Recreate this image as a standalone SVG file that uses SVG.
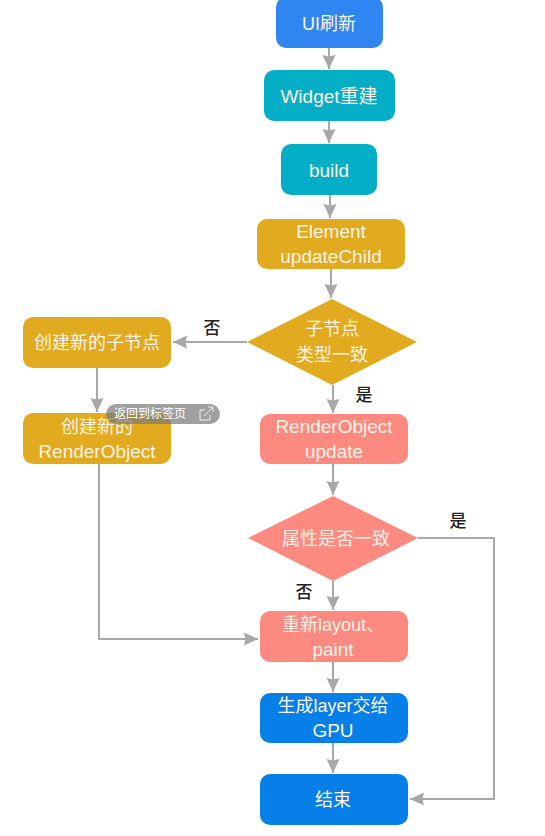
<svg xmlns="http://www.w3.org/2000/svg" width="545" height="836" viewBox="0 0 545 836">
<style>
text{font-family:"Liberation Sans","Noto Sans CJK SC",sans-serif;text-anchor:middle}
.t{font-size:18px;fill:#fdf3e6}
.w{font-size:19px;fill:#fdf3e6}
.l{font-size:17px;fill:#222;font-family:"Noto Sans CJK SC",sans-serif;font-weight:500}
.c{fill:none;stroke:#a8a8aa;stroke-width:2}
.blue{fill:#2f86f2}.teal{fill:#04aec6}.gold{fill:#e2aa1e}.pink{fill:#fd8a80}.deep{fill:#067fe8}
</style>
<defs><marker id="a" markerUnits="userSpaceOnUse" markerWidth="15" markerHeight="14" refX="14" refY="6.5" orient="auto"><path d="M0 0L14 6.5L0 13L1.5 6.5Z" fill="#a8a8aa"/></marker></defs>
<rect width="545" height="836" fill="#fff"/>
<g id="connectors">
<path class="c" marker-end="url(#a)" d="M329 48V69"/>
<path class="c" marker-end="url(#a)" d="M329 121V143"/>
<path class="c" marker-end="url(#a)" d="M330 195V218"/>
<path class="c" marker-end="url(#a)" d="M331 269V298"/>
<path class="c" marker-end="url(#a)" d="M247 342H173"/>
<path class="c" marker-end="url(#a)" d="M97 368V412"/>
<path class="c" marker-end="url(#a)" d="M333 385V413"/>
<path class="c" marker-end="url(#a)" d="M333 464V495"/>
<path class="c" marker-end="url(#a)" d="M99 464V639H258"/>
<path class="c" marker-end="url(#a)" d="M333 581V610"/>
<path class="c" marker-end="url(#a)" d="M333 662V692"/>
<path class="c" marker-end="url(#a)" d="M333 743V773"/>
<path class="c" marker-end="url(#a)" d="M418 538H494V799H410"/>
</g>
<g id="n1"><rect class="blue" x="276" y="-3" width="107" height="51" rx="10"/><text class="t" x="329" y="30">UI刷新</text></g>
<g id="n2"><rect class="teal" x="264" y="70" width="131" height="51" rx="10"/><text class="w" x="329" y="103">Widget重建</text></g>
<g id="n3"><rect class="teal" x="281" y="144" width="96" height="51" rx="10"/><text class="w" x="329" y="177">build</text></g>
<g id="n4"><rect class="gold" x="257" y="219" width="148" height="50" rx="10"/><text class="w" x="331" y="238">Element</text><text class="w" x="331" y="263">updateChild</text></g>
<g id="n5"><path class="gold" d="M247 342L332 299L417 342L332 385Z"/><text class="t" x="332" y="335">子节点</text><text class="t" x="332" y="361">类型一致</text></g>
<g id="n6"><rect class="gold" x="23" y="317" width="148" height="51" rx="10"/><text class="t" x="97" y="349">创建新的子节点</text></g>
<g id="n7"><rect class="gold" x="23" y="413" width="148" height="51" rx="10"/><text class="t" x="97" y="433">创建新的</text><text class="w" x="97" y="458">RenderObject</text></g>
<g id="n8"><rect class="pink" x="260" y="414" width="148" height="50" rx="10"/><text class="w" x="334" y="433">RenderObject</text><text class="w" x="334" y="458">update</text></g>
<g id="n9"><path class="pink" d="M248 538L333 496L418 538L333 581Z"/><text class="t" x="336" y="545">属性是否一致</text></g>
<g id="n10"><rect class="pink" x="260" y="611" width="148" height="51" rx="10"/><text class="t" x="333" y="631">重新layout、</text><text class="w" x="333" y="656">paint</text></g>
<g id="n11"><rect class="deep" x="260" y="693" width="148" height="50" rx="10"/><text class="t" x="333" y="712">生成layer交给</text><text class="w" x="333" y="737">GPU</text></g>
<g id="n12"><rect class="deep" x="260" y="774" width="148" height="51" rx="10"/><text class="t" x="333" y="806">结束</text></g>
<g id="labels">
<text class="l" x="212" y="334">否</text>
<text class="l" x="364" y="401">是</text>
<text class="l" x="458" y="527">是</text>
<text class="l" x="304" y="598">否</text>
</g>
<g id="badge"><rect x="106" y="404" width="114" height="20" rx="10" fill="#777" fill-opacity=".7"/><text x="150" y="418" style="font-size:12px;fill:#fff">返回到标签页</text><path d="M205 410h-5v10h10v-5M204 416l9-9M208 407h5v5" fill="none" stroke="#eee" stroke-width="1"/></g>
</svg>
